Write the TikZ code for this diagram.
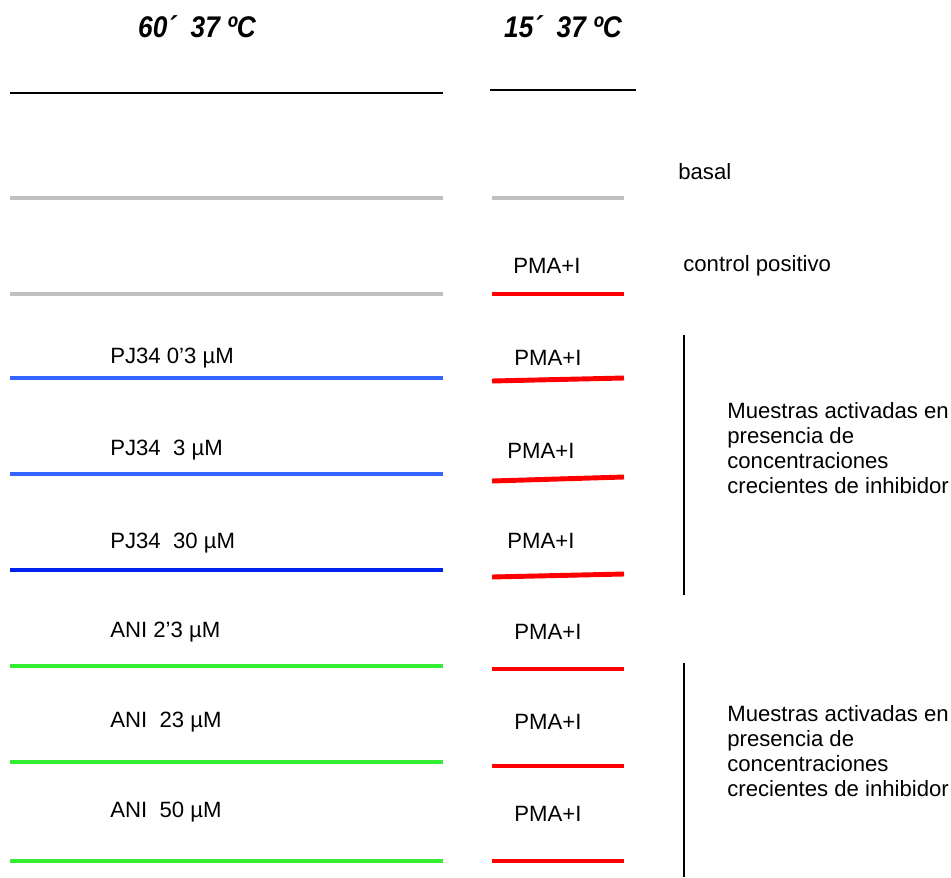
\documentclass[tikz,border=0pt]{standalone}
\usepackage{fontspec}
\setmainfont{Liberation Sans}
\newfontfamily\narrowfont[FakeStretch=0.88]{Liberation Sans}
\usepackage{xcolor}
\definecolor{lgray}{RGB}{192,192,192}
\definecolor{lblue}{RGB}{51,102,255}
\definecolor{dblue}{RGB}{0,34,238}
\definecolor{lgreen}{RGB}{51,238,51}
\definecolor{pred}{RGB}{255,0,0}
\begin{document}
\begin{tikzpicture}[x=0.02cm, y=-0.02cm]
        \tikzstyle{head}=[font=\narrowfont\fontsize{17}{20}\selectfont\bfseries\itshape]
        \tikzstyle{lbl}=[font=\fontsize{12.6}{14.2}\selectfont, inner sep=0pt]
        \tikzstyle{bar}=[line width=2.8pt]
        \tikzstyle{rule}=[line width=1.1pt]
        \useasboundingbox (0,0) rectangle (951,877);
        % headers
        \node[head] (h60) at (197,27) {60´\ \ 37 ºC};
        \node[head] (h15) at (563,27) {15´\ \ 37 ºC};
        \draw[rule] (10,93) -- (443,93);
        \draw[rule] (490,90) -- (636,90);
        % basal
        \draw[bar, lgray] (10,198) -- (443,198);
        \draw[bar, lgray] (492,198) -- (624,198);
        \node[lbl, anchor=west] (basal) at (678,172) {basal};
        % control positivo
        \node[lbl] (pma0) at (547,266) {PMA+I};
        \node[lbl, anchor=west] (ctrl) at (683,266) {control positivo};
        \draw[bar, lgray] (10,294) -- (443,294);
        \draw[bar, pred] (492,294) -- (624,294);
        % PJ34
        \node[lbl, anchor=west] (pj1) at (110,358) {PJ34 0’3 µM};
        \node[lbl] (pma1) at (548,358) {PMA+I};
        \draw[bar, lblue] (10,378) -- (443,378);
        \draw[bar, pred] (492,381) -- (624,378);
        \node[lbl, anchor=west] (pj2) at (110,450) {PJ34\ \ 3 µM};
        \node[lbl] (pma2) at (541,451) {PMA+I};
        \draw[bar, lblue] (10,474) -- (443,474);
        \draw[bar, pred] (492,481) -- (624,477);
        \node[lbl, anchor=west] (pj3) at (110,543) {PJ34\ \ 30 µM};
        \node[lbl] (pma3) at (541,541) {PMA+I};
        \draw[bar, dblue] (10,570) -- (443,570);
        \draw[bar, pred] (492,577) -- (624,574);
        % ANI
        \node[lbl, anchor=west] (ani1) at (110,632) {ANI 2’3 µM};
        \node[lbl] (pma4) at (548,632) {PMA+I};
        \draw[bar, lgreen] (10,666) -- (443,666);
        \draw[bar, pred] (492,669) -- (624,669);
        \node[lbl, anchor=west] (ani2) at (110,722) {ANI\ \ 23 µM};
        \node[lbl] (pma5) at (548,722) {PMA+I};
        \draw[bar, lgreen] (10,762) -- (443,762);
        \draw[bar, pred] (492,766) -- (624,766);
        \node[lbl, anchor=west] (ani3) at (110,812) {ANI\ \ 50 µM};
        \node[lbl] (pma6) at (548,814) {PMA+I};
        \draw[bar, lgreen] (10,861) -- (443,861);
        \draw[bar, pred] (492,861) -- (624,861);
        % brackets
        \draw[line width=0.8pt] (684,335) -- (684,595);
        \draw[line width=0.8pt] (684,663) -- (684,877);
        \node[lbl, anchor=west, align=left] (grp1) at (727,448) {Muestras activadas en\\presencia de\\concentraciones\\crecientes de inhibidor};
        \node[lbl, anchor=west, align=left] (grp2) at (727,751) {Muestras activadas en\\presencia de\\concentraciones\\crecientes de inhibidor};
    \end{tikzpicture}
\end{document}
